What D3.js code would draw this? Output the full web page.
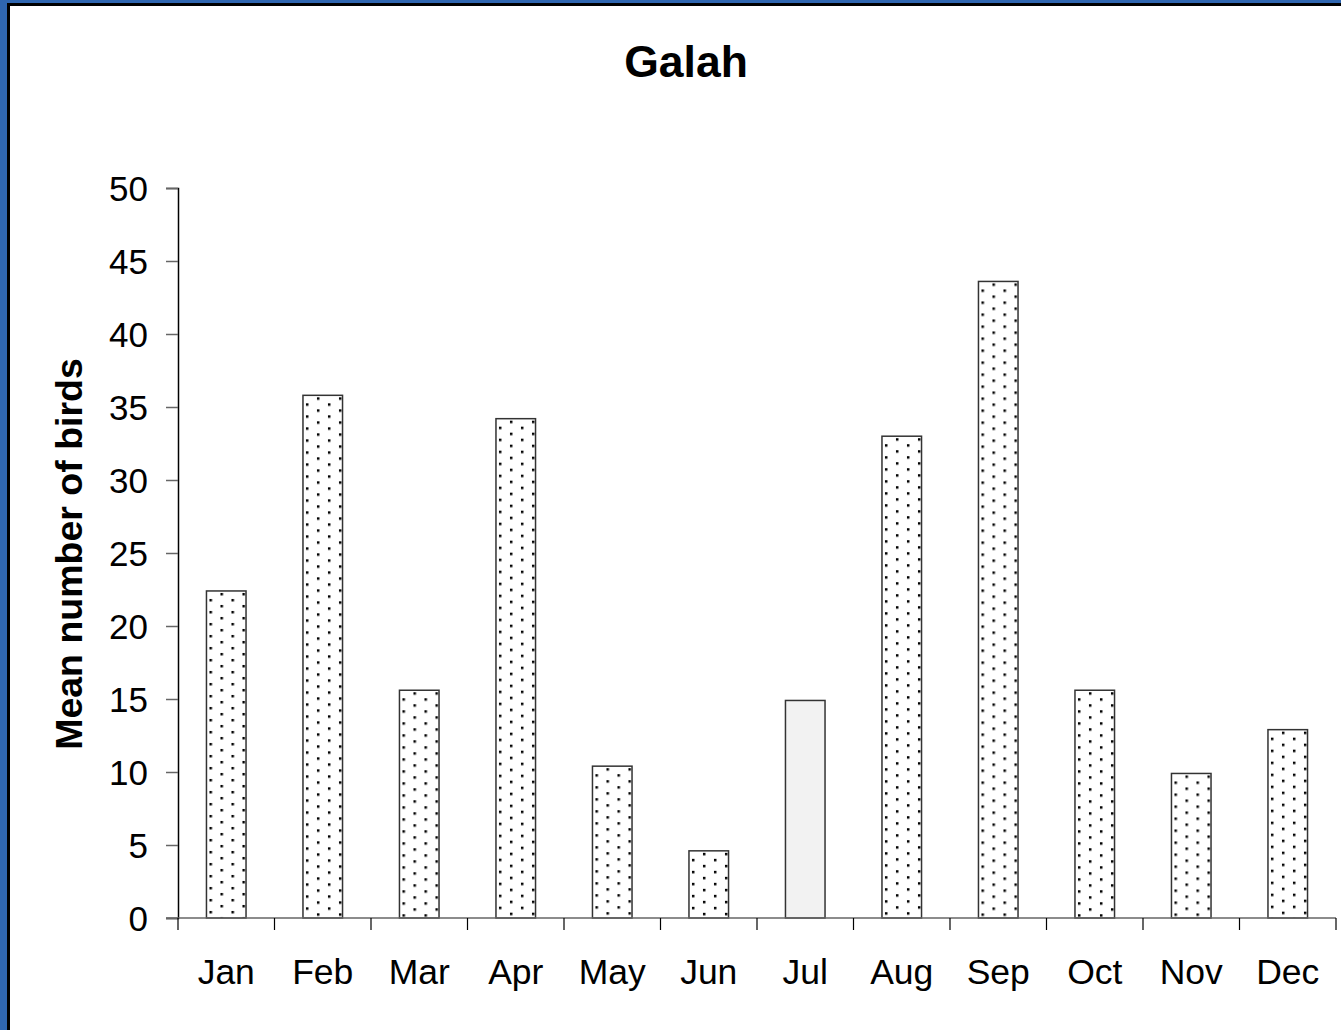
<!DOCTYPE html>
<html>
<head>
<meta charset="utf-8">
<script src="https://cdn.jsdelivr.net/npm/d3@7/dist/d3.min.js"></script>
<style>
  html, body { margin: 0; padding: 0; background: #2f66b0; }
  svg { display: block; }
  text { font-family: "Liberation Sans", Arial, sans-serif; fill: #000; }
</style>
</head>
<body>
<svg id="chart" width="1341" height="1030"></svg>
<script>
"use strict";

// data
var months = ["Jan", "Feb", "Mar", "Apr", "May", "Jun", "Jul", "Aug", "Sep", "Oct", "Nov", "Dec"];
var meanBirds = [22.4, 35.8, 15.6, 34.2, 10.4, 4.6, 14.9, 33.0, 43.6, 15.6, 9.9, 12.9];
var plainMonths = ["Jul"];   // the one bar without dots
var yTicks = [0, 5, 10, 15, 20, 25, 30, 35, 40, 45, 50];

var W = 1341, H = 1030,
    margin = { left: 178, right: 5, top: 188, bottom: 112 },
    svg = d3.select("#chart");

// outer frame: blue background, black line, white panel
svg.append("rect").attr("x", 0).attr("y", 0).attr("width", W).attr("height", H).attr("fill", "#2f66b0");
svg.append("rect").attr("x", 7).attr("y", 3).attr("width", W).attr("height", H)
    .attr("fill", "#000");
svg.append("rect").attr("x", 10).attr("y", 6).attr("width", W).attr("height", H)
    .attr("fill", "#fff");

var x = d3.scaleBand()
    .domain(months)
    .range([margin.left, W - margin.right])
    .paddingInner(0.59)
    .paddingOuter(0.295);

var y = d3.scaleLinear()
    .domain([0, 50])
    .range([H - margin.bottom, margin.top]);

// dotted fill, one pattern per bar so the dots sit the same way in each
var defs = svg.append("defs");
months.forEach(function (m, i) {
    var p = defs.append("pattern")
        .attr("id", "dots" + i)
        .attr("patternUnits", "userSpaceOnUse")
        .attr("x", x(m) + 4)
        .attr("y", y(meanBirds[i]) + 2)
        .attr("width", 22)
        .attr("height", 12);
    p.append("rect").attr("width", 22).attr("height", 12).attr("fill", "#fff");
    p.append("rect").attr("x", 10).attr("y", 0).attr("width", 2.5).attr("height", 2.5).attr("fill", "#000");
    p.append("rect").attr("x", -1).attr("y", 6).attr("width", 2.5).attr("height", 2.5).attr("fill", "#000");
    p.append("rect").attr("x", 21).attr("y", 6).attr("width", 2.5).attr("height", 2.5).attr("fill", "#000");
});

// bars
svg.append("g").selectAll("rect")
    .data(months)
    .enter().append("rect")
    .attr("x", function (m) { return x(m); })
    .attr("y", function (m, i) { return y(meanBirds[i]); })
    .attr("width", x.bandwidth())
    .attr("height", function (m, i) { return y(0) - y(meanBirds[i]); })
    .attr("fill", function (m, i) {
        return plainMonths.indexOf(m) >= 0 ? "#f2f2f2" : "url(#dots" + i + ")";
    })
    .attr("stroke", "#333")
    .attr("stroke-width", 1.5);

// y axis
var yAxis = svg.append("g")
    .attr("transform", "translate(" + margin.left + ",0)")
    .call(d3.axisLeft(y).tickValues(yTicks).tickSize(12).tickPadding(18));
yAxis.select(".domain").attr("stroke", "#000").attr("stroke-width", 1.5);
yAxis.selectAll(".tick line").attr("stroke", "#666").attr("stroke-width", 1.5);
yAxis.selectAll(".tick text")
    .style("font-family", "'Liberation Sans', Arial, sans-serif")
    .style("font-size", "35px")
    .attr("dy", "0.36em");

// x axis: ticks sit between the months
var xBase = svg.append("g").attr("transform", "translate(0," + y(0) + ")");
xBase.append("line")
    .attr("x1", margin.left - 12).attr("x2", W - margin.right)
    .attr("stroke", "#666").attr("stroke-width", 1.5);
var step = x.step();
xBase.selectAll("line.sep")
    .data(d3.range(months.length + 1))
    .enter().append("line")
    .attr("class", "sep")
    .attr("x1", function (k) { return margin.left + k * step; })
    .attr("x2", function (k) { return margin.left + k * step; })
    .attr("y1", 0).attr("y2", 12)
    .attr("stroke", "#000").attr("stroke-width", 1.2);
xBase.selectAll("text")
    .data(months)
    .enter().append("text")
    .attr("x", function (m) { return x(m) + x.bandwidth() / 2; })
    .attr("y", 66)
    .attr("text-anchor", "middle")
    .style("font-size", "35.5px")
    .text(function (m) { return m; });

// title and axis label
svg.append("text")
    .attr("x", 686).attr("y", 77)
    .attr("text-anchor", "middle")
    .style("font-size", "44.5px").style("font-weight", "bold")
    .text("Galah");

svg.append("text")
    .attr("transform", "translate(82,554) rotate(-90)")
    .attr("text-anchor", "middle")
    .style("font-size", "37.5px").style("font-weight", "bold")
    .text("Mean number of birds");
</script>
</body>
</html>
